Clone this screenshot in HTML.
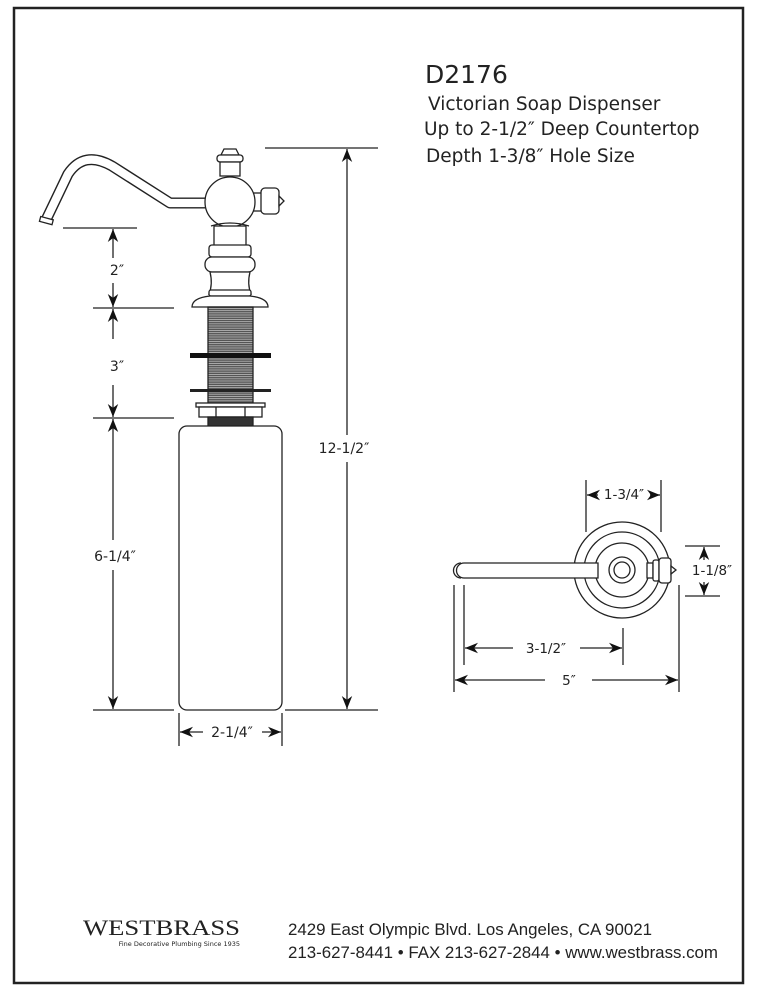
<!DOCTYPE html>
<html><head><meta charset="utf-8"><style>
body{margin:0;background:#fff}
svg{display:block}
text{fill:#222}
</style></head><body>
<svg width="760" height="990" viewBox="0 0 760 990" xmlns="http://www.w3.org/2000/svg" font-family="DejaVu Sans, Liberation Sans, sans-serif">
<defs>
<marker id="a" viewBox="0 0 10 10" refX="10" refY="5" markerWidth="10" markerHeight="10" orient="auto-start-reverse"><path d="M0,1 L10,5 L0,9 L3,5 Z" fill="#111"/></marker>
<pattern id="th" width="4" height="2.2" patternUnits="userSpaceOnUse"><rect width="4" height="2.2" fill="#555"/><rect width="4" height="0.8" fill="#bbb"/></pattern>
</defs>
<rect x="14" y="8" width="729" height="975" fill="none" stroke="#222" stroke-width="2.5"/>
<text x="425" y="83" font-size="25">D2176</text>
<g font-size="18.5">
<text x="428" y="110">Victorian Soap Dispenser</text>
<text x="424" y="135">Up to 2-1/2″ Deep Countertop</text>
<text x="426" y="162">Depth 1-3/8″ Hole Size</text>
</g>
<g stroke="#222" fill="#fff" stroke-width="1.3">
<path d="M46,220 L68,174 Q84,150 112,166 L170,203 L210,203" fill="none" stroke="#222" stroke-width="11" stroke-linejoin="round"/>
<path d="M46,220 L68,174 Q84,150 112,166 L170,203 L210,203" fill="none" stroke="#fff" stroke-width="8.2" stroke-linejoin="round"/>
<rect x="40" y="218" width="13" height="5" transform="rotate(15 46 220)"/>
<path d="M224,149 h12 l3,6 h-18 z"/>
<rect x="217" y="155" width="26" height="7" rx="3"/>
<rect x="220" y="162" width="20" height="14"/>
<rect x="252" y="193" width="10" height="18"/>
<rect x="261" y="188" width="18" height="26" rx="4"/>
<path d="M279,196 l5,5 l-5,5 z"/>
<circle cx="230" cy="202" r="25"/>
<rect x="214" y="226" width="32" height="20"/>
<path d="M211,226 q19,-6 38,0" fill="none"/>
<rect x="209" y="245" width="42" height="12" rx="3"/>
<rect x="205" y="257" width="50" height="15" rx="7"/>
<path d="M210,272 q3,12 -1,22 h42 q-4,-10 -1,-22 z"/>
<rect x="209" y="290" width="42" height="6" rx="2"/>
<path d="M192,307 q0,-9 18,-11 h40 q18,2 18,11 z"/>
<rect x="208" y="307" width="45" height="98" fill="url(#th)" stroke="#222"/>
<rect x="190" y="353" width="81" height="5" fill="#111" stroke="none"/>
<rect x="190" y="389" width="81" height="3" fill="#222" stroke="none"/>
<rect x="196" y="403" width="69" height="4"/>
<rect x="199" y="407" width="63" height="10"/>
<line x1="216" y1="407" x2="216" y2="417"/><line x1="245" y1="407" x2="245" y2="417"/>
<rect x="208" y="417" width="45" height="9" fill="#333"/>
<rect x="179" y="426" width="103" height="284" rx="8"/>
</g>
<g stroke="#222" stroke-width="1.3" fill="none">
<line x1="63" y1="228" x2="137" y2="228"/>
<line x1="93" y1="308" x2="174" y2="308"/>
<line x1="93" y1="418" x2="174" y2="418"/>
<line x1="93" y1="710" x2="174" y2="710"/>
<line x1="113" y1="258" x2="113" y2="229" marker-end="url(#a)"/>
<line x1="113" y1="283" x2="113" y2="307" marker-end="url(#a)"/>
<line x1="113" y1="339" x2="113" y2="309" marker-end="url(#a)"/>
<line x1="113" y1="385" x2="113" y2="417" marker-end="url(#a)"/>
<line x1="113" y1="540" x2="113" y2="419" marker-end="url(#a)"/>
<line x1="113" y1="570" x2="113" y2="709" marker-end="url(#a)"/>
<line x1="265" y1="148" x2="378" y2="148"/>
<line x1="285" y1="710" x2="378" y2="710"/>
<line x1="347" y1="435" x2="347" y2="149" marker-end="url(#a)"/>
<line x1="347" y1="462" x2="347" y2="709" marker-end="url(#a)"/>
<line x1="179" y1="713" x2="179" y2="746"/>
<line x1="282" y1="713" x2="282" y2="746"/>
<line x1="203" y1="732" x2="180" y2="732" marker-end="url(#a)"/>
<line x1="262" y1="732" x2="281" y2="732" marker-end="url(#a)"/>
</g>
<g font-size="14" text-anchor="middle">
<text x="117" y="275">2″</text>
<text x="117" y="371">3″</text>
<text x="115" y="561">6-1/4″</text>
<text x="344" y="453">12-1/2″</text>
<text x="232" y="737">2-1/4″</text>
</g>
<g stroke="#222" stroke-width="1.3" fill="#fff">
<circle cx="622" cy="570" r="48"/>
<circle cx="622" cy="570" r="38"/>
<circle cx="622" cy="570" r="27"/>
<circle cx="622" cy="570" r="13"/>
<circle cx="622" cy="570" r="8"/>
<path d="M598,563 H464 a7.5,7.5 0 0 0 0,15 H598 z"/>
<path d="M461,563 a7.5,7.5 0 0 0 0,15" fill="none"/>
<rect x="647" y="563" width="6" height="15"/>
<rect x="653" y="560" width="6" height="21" rx="2"/>
<rect x="659" y="558" width="12" height="25" rx="3"/>
<path d="M671,566 l5,4 l-5,4 z"/>
</g>
<g stroke="#222" stroke-width="1.3" fill="none">
<line x1="586" y1="480" x2="586" y2="532"/>
<line x1="661" y1="480" x2="661" y2="532"/>
<line x1="598" y1="495" x2="587" y2="495" marker-end="url(#a)"/>
<line x1="650" y1="495" x2="660" y2="495" marker-end="url(#a)"/>
<line x1="685" y1="546" x2="720" y2="546"/>
<line x1="685" y1="596" x2="720" y2="596"/>
<line x1="704" y1="560" x2="704" y2="547" marker-end="url(#a)"/>
<line x1="704" y1="582" x2="704" y2="595" marker-end="url(#a)"/>
<line x1="464" y1="585" x2="464" y2="665"/>
<line x1="623" y1="628" x2="623" y2="665"/>
<line x1="454" y1="585" x2="454" y2="692"/>
<line x1="679" y1="585" x2="679" y2="692"/>
<line x1="513" y1="648" x2="465" y2="648" marker-end="url(#a)"/>
<line x1="580" y1="648" x2="622" y2="648" marker-end="url(#a)"/>
<line x1="545" y1="680" x2="455" y2="680" marker-end="url(#a)"/>
<line x1="592" y1="680" x2="678" y2="680" marker-end="url(#a)"/>
</g>
<g font-size="13.5" text-anchor="middle">
<text x="624" y="499">1-3/4″</text>
<text x="712" y="575">1-1/8″</text>
<text x="546" y="653">3-1/2″</text>
<text x="569" y="685">5″</text>
</g>
<text x="83" y="935" style="font-family:'Liberation Serif',serif" font-size="22" textLength="157" lengthAdjust="spacingAndGlyphs">WESTBRASS</text>
<text x="240" y="946" font-size="6.5" text-anchor="end">Fine Decorative Plumbing Since 1935</text>
<text x="288" y="935" style="font-family:'Liberation Sans',sans-serif" font-size="16.5" textLength="364" lengthAdjust="spacingAndGlyphs">2429 East Olympic Blvd. Los Angeles, CA  90021</text>
<text x="288" y="958" style="font-family:'Liberation Sans',sans-serif" font-size="16.5" textLength="430" lengthAdjust="spacingAndGlyphs">213-627-8441 • FAX 213-627-2844 • www.westbrass.com</text>
</svg>
</body></html>
